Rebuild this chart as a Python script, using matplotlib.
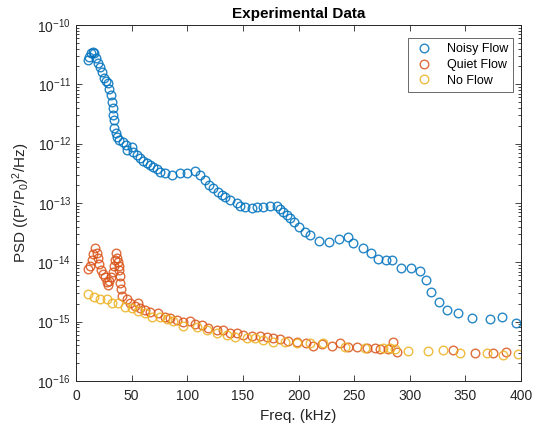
import matplotlib
matplotlib.use("Agg")
import matplotlib.pyplot as plt
from matplotlib.ticker import LogLocator, FixedLocator, NullFormatter

plt.rcParams['font.family'] = ['Liberation Sans', 'DejaVu Sans']
plt.rcParams['mathtext.fontset'] = 'custom'
plt.rcParams['mathtext.rm'] = 'Liberation Sans'
plt.rcParams['mathtext.it'] = 'Liberation Sans:italic'
plt.rcParams['mathtext.bf'] = 'Liberation Sans:bold'

# ---- data ----
noisy_f = [10.5, 11.7, 13.5, 15.3, 16.5, 18.0, 19.5, 21.6, 23.4, 25.4, 27.0, 28.5, 29.9, 31.5,
           32.4, 33.0, 33.5, 34.0, 34.4, 36.0, 36.9, 38.9, 42.0, 44.9, 45.6, 50.1, 51.5, 54.6,
           57.5, 60.5, 63.6, 66.5, 69.5, 72.5, 75.5, 80.0, 86.0, 93.5, 100.0, 107.0, 111.5,
           116.0, 119.8, 123.4, 127.9, 131.0, 134.0, 138.4, 144.5, 147.4, 151.9, 157.9, 162.4,
           168.4, 174.4, 180.4, 183.4, 186.3, 189.4, 192.4, 196.0, 200.7, 205.9, 210.3, 218.7,
           227.7, 236.0, 244.2, 249.3, 258.3, 265.4, 271.7, 278.4, 284.3, 291.9, 301.1, 309.2,
           314.6, 319.4, 326.0, 333.2, 343.7, 356.2, 371.9, 383.2, 395.5]
noisy_psd = [2.57e-11, 2.89e-11, 3.33e-11, 3.51e-11, 3.33e-11, 2.75e-11, 2.26e-11, 1.98e-11,
             1.63e-11, 1.26e-11, 1.14e-11, 1.04e-11, 8.24e-12, 6.61e-12, 5.09e-12, 3.94e-12,
             3.04e-12, 2.51e-12, 1.82e-12, 1.51e-12, 1.31e-12, 1.15e-12, 1.08e-12, 9.49e-13,
             7.82e-13, 8.89e-13, 7.33e-13, 6.44e-13, 5.66e-13, 5.16e-13, 4.78e-13, 4.37e-13,
             4.00e-13, 3.70e-13, 3.37e-13, 3.16e-13, 2.96e-13, 3.16e-13, 3.24e-13, 3.50e-13,
             2.96e-13, 2.44e-13, 2.01e-13, 1.77e-13, 1.55e-13, 1.36e-13, 1.28e-13, 1.12e-13,
             9.88e-14, 8.89e-14, 8.67e-14, 8.15e-14, 8.67e-14, 8.67e-14, 8.89e-14, 8.89e-14,
             7.83e-14, 7.13e-14, 6.28e-14, 5.52e-14, 4.84e-14, 3.98e-14, 3.28e-14, 2.88e-14,
             2.29e-14, 2.23e-14, 2.43e-14, 2.64e-14, 2.14e-14, 1.72e-14, 1.42e-14, 1.12e-14,
             1.09e-14, 1.09e-14, 8.02e-15, 8.11e-15, 7.06e-15, 4.98e-15, 3.20e-15, 2.17e-15,
             1.57e-15, 1.38e-15, 1.14e-15, 1.10e-15, 1.21e-15, 9.59e-16]

quiet_f = [11.1, 12.6, 14.4, 15.7, 17.3, 18.6, 19.5, 20.9, 22.5, 24.0, 26.1, 27.6, 28.5, 29.9,
           31.5, 33.0, 34.0, 35.1, 36.0, 37.1, 37.8, 38.4, 38.9, 39.5, 39.9, 40.3, 41.1, 45.6,
           48.5, 53.0, 56.0, 57.5, 62.0, 66.5, 74.0, 80.0, 84.5, 90.5, 96.5, 102.5, 107.0,
           113.0, 118.9, 126.5, 132.4, 138.4, 144.5, 150.4, 157.9, 165.4, 171.4, 177.4, 183.4,
           190.8, 198.4, 206.7, 213.3, 220.9, 229.9, 237.3, 244.8, 252.3, 261.3, 268.8, 273.3,
           280.7, 285.2, 288.3, 339.2, 358.7, 375.1, 386.5]
quiet_psd = [7.62e-15, 8.67e-15, 1.09e-14, 1.38e-14, 1.74e-14, 1.44e-14, 1.17e-14, 9.37e-15,
             7.43e-15, 6.35e-15, 5.66e-15, 4.71e-15, 4.15e-15, 4.84e-15, 5.73e-15, 6.95e-15,
             8.67e-15, 1.09e-14, 1.42e-14, 1.17e-14, 1.01e-14, 8.67e-15, 7.43e-15, 5.88e-15,
             4.48e-15, 3.55e-15, 2.70e-15, 2.38e-15, 2.04e-15, 1.84e-15, 2.04e-15, 1.68e-15,
             1.57e-15, 1.47e-15, 1.38e-15, 1.21e-15, 1.14e-15, 1.07e-15, 9.98e-16, 1.04e-15,
             9.12e-16, 8.79e-16, 7.73e-16, 7.23e-16, 7.23e-16, 6.52e-16, 6.37e-16, 5.96e-16,
             5.80e-16, 5.80e-16, 5.45e-16, 5.40e-16, 5.04e-16, 4.72e-16, 4.59e-16, 4.42e-16,
             3.89e-16, 4.20e-16, 3.89e-16, 4.31e-16, 3.79e-16, 3.79e-16, 3.56e-16, 3.56e-16,
             3.42e-16, 3.42e-16, 4.54e-16, 3.12e-16, 3.33e-16, 2.92e-16, 2.92e-16, 3.12e-16]

noflow_f = [11.1, 16.2, 21.6, 27.6, 32.1, 38.0, 44.0, 50.1, 56.0, 62.0, 68.0, 75.5, 81.5, 87.5,
            96.5, 108.5, 117.5, 126.5, 135.5, 142.9, 153.4, 160.9, 168.4, 177.4, 187.9, 198.4,
            210.3, 222.3, 241.8, 259.8, 276.2, 282.3, 286.8, 298.7, 316.7, 330.2, 345.2, 369.2,
            384.1, 397.6]
noflow_psd = [2.92e-15, 2.57e-15, 2.41e-15, 2.41e-15, 2.09e-15, 2.04e-15, 1.75e-15, 1.68e-15,
              1.53e-15, 1.38e-15, 1.21e-15, 1.21e-15, 1.11e-15, 1.04e-15, 8.45e-16, 8.04e-16,
              7.23e-16, 6.52e-16, 5.96e-16, 5.57e-16, 5.24e-16, 5.24e-16, 4.91e-16, 4.59e-16,
              4.59e-16, 4.31e-16, 4.31e-16, 4.31e-16, 3.79e-16, 3.60e-16, 3.56e-16, 3.60e-16,
              3.42e-16, 3.24e-16, 3.24e-16, 3.33e-16, 3.00e-16, 3.00e-16, 2.74e-16, 2.85e-16]

series_labels = ['Noisy Flow', 'Quiet Flow', 'No Flow']
series_colors = ['#0072BD', '#D95319', '#EDB120']
x_ticks = [0, 50, 100, 150, 200, 250, 300, 350, 400]
y_ticks = [1e-16, 1e-15, 1e-14, 1e-13, 1e-12, 1e-11, 1e-10]

# ---- figure ----
fig = plt.figure(figsize=(5.35, 4.32), dpi=100)
ax = fig.add_axes([76/535, 51/432, 445/535, 356/432])

for f, p, lab, col in zip([noisy_f, quiet_f, noflow_f],
                          [noisy_psd, quiet_psd, noflow_psd],
                          series_labels, series_colors):
    ax.plot(f, p, linestyle='none', marker='o', markersize=6.2,
            markerfacecolor='none', markeredgecolor=col, markeredgewidth=1.0,
            alpha=0.85, label=lab)

ax.set_yscale('log')
ax.set_xlim(0, 400)
ax.set_ylim(1e-16, 1e-10)
ax.xaxis.set_major_locator(FixedLocator(x_ticks))
ax.xaxis.set_minor_locator(plt.NullLocator())
ax.yaxis.set_major_locator(FixedLocator(y_ticks))
ax.yaxis.set_minor_locator(LogLocator(base=10, subs=range(2, 10), numticks=100))
ax.yaxis.set_minor_formatter(NullFormatter())

ax.tick_params(which='both', direction='in', top=True, right=True,
               colors='#262626', labelsize=10, width=0.6)
ax.tick_params(which='major', length=4.5)
ax.tick_params(which='minor', length=2.5)
ax.tick_params(axis='x', pad=6)
for s in ax.spines.values():
    s.set_color('#262626')
    s.set_linewidth(0.7)

ax.set_xlabel('Freq. (kHz)', fontsize=11, color='#262626')
ax.set_ylabel("PSD ((P'/P$_0$)$^2$/Hz)", fontsize=11, color='#262626', labelpad=4)
ax.set_title('Experimental Data', fontsize=11, fontweight='bold', color='black', pad=5)

leg = ax.legend(loc='upper right', bbox_to_anchor=(0.982, 0.963), borderaxespad=0,
                fontsize=9, frameon=True, fancybox=False, edgecolor='#262626',
                handlelength=1.8, handletextpad=0.9, borderpad=0.4, labelspacing=0.3)
leg.get_frame().set_linewidth(0.6)

fig.savefig('out.png', dpi=100)
